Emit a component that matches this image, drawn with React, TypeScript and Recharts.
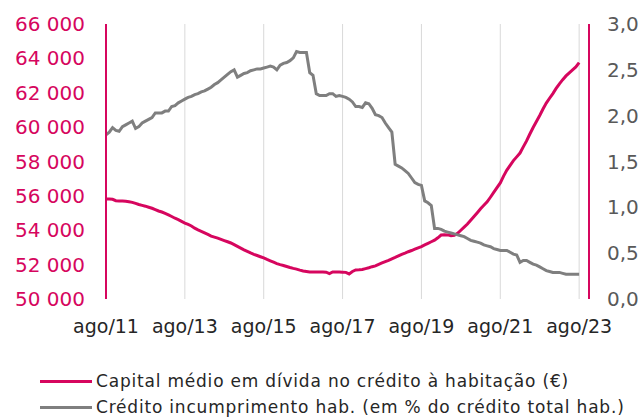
import React from "react";
import { LineChart, Line, XAxis, YAxis, CartesianGrid } from "recharts";

// monthly, ago/11 (index 0) to ago/23 (index 144)
const capitalMedio = [
  55820, 55820, 55800, 55720, 55700, 55700, 55690, 55660, 55620, 55560,
  55500, 55450, 55400, 55340, 55280, 55200, 55120, 55060, 54980, 54890,
  54800, 54700, 54620, 54520, 54420, 54340, 54250, 54120, 54020, 53940,
  53850, 53760, 53660, 53600, 53540, 53470, 53400, 53330, 53260, 53160,
  53060, 52960, 52860, 52770, 52680, 52600, 52530, 52460, 52390, 52300,
  52220, 52140, 52060, 52000, 51950, 51890, 51830, 51780, 51740, 51680,
  51630, 51600, 51570, 51570, 51570, 51570, 51570, 51560, 51480, 51570,
  51570, 51570, 51560, 51550, 51460, 51600, 51690, 51700, 51720, 51770,
  51820, 51880, 51930, 52020, 52100, 52180, 52250, 52340, 52420, 52510,
  52600, 52670, 52750, 52820, 52900, 52980, 53050, 53150, 53240, 53330,
  53420, 53560, 53720, 53740, 53730, 53680, 53700, 53820, 54000, 54180,
  54360, 54580, 54800, 55020, 55250, 55450, 55650, 55920, 56200, 56480,
  56750, 57150, 57500, 57780, 58050, 58270, 58490, 58850, 59200, 59600,
  59980, 60330, 60680, 61050, 61400, 61680, 61950, 62250, 62520, 62760,
  62980, 63160, 63330, 63500, 63750,
];

const incumprimento = [
  1.79, 1.82, 1.87, 1.84, 1.83, 1.88, 1.9, 1.92, 1.94, 1.86,
  1.88, 1.92, 1.94, 1.96, 1.98, 2.03, 2.03, 2.03, 2.05, 2.05,
  2.1, 2.11, 2.14, 2.16, 2.18, 2.2, 2.21, 2.23, 2.24, 2.26,
  2.27, 2.29, 2.31, 2.34, 2.36, 2.39, 2.42, 2.45, 2.48, 2.5,
  2.42, 2.44, 2.46, 2.47, 2.49, 2.5, 2.51, 2.51, 2.52, 2.53,
  2.54, 2.53, 2.5, 2.55, 2.57, 2.58, 2.6, 2.63, 2.7, 2.69,
  2.69, 2.69, 2.47, 2.44, 2.24, 2.22, 2.22, 2.22, 2.24, 2.24,
  2.21, 2.22, 2.21, 2.2, 2.18, 2.15, 2.1, 2.1, 2.09, 2.14,
  2.13, 2.08, 2.01, 2.0, 1.98, 1.92, 1.87, 1.82, 1.47, 1.45,
  1.43, 1.4, 1.37, 1.32, 1.27, 1.25, 1.24, 1.07, 1.05, 1.02,
  0.77, 0.77, 0.76, 0.74, 0.73, 0.72, 0.71, 0.7, 0.69, 0.68,
  0.66, 0.64, 0.63, 0.62, 0.61, 0.59, 0.58, 0.57, 0.55, 0.54,
  0.53, 0.53, 0.53, 0.51, 0.49, 0.48, 0.4, 0.42, 0.42, 0.4,
  0.38, 0.37, 0.35, 0.33, 0.31, 0.3, 0.29, 0.29, 0.29, 0.28,
  0.27, 0.27, 0.27, 0.27, 0.27,
];

const tickLabels = ["ago/11", "ago/13", "ago/15", "ago/17", "ago/19", "ago/21", "ago/23"];
const leftTicks = [50000, 52000, 54000, 56000, 58000, 60000, 62000, 64000, 66000];
const rightTicks = [0, 0.5, 1, 1.5, 2, 2.5, 3];

const seriesNames = [
  "Capital médio em dívida no crédito à habitação (€)",
  "Crédito incumprimento hab. (em % do crédito total hab.)",
];

const PINK = "#d6065e";
const GRAY = "#7f7f7f";
const FONT = "'DejaVu Sans', sans-serif";

const data = capitalMedio.map((v, i) => ({ m: i, capital: v, incump: incumprimento[i] }));
const xTicks = tickLabels.map((_, i) => i * 24);

const fmtThousands = (v: number) => String(v).replace(/\B(?=(\d{3})+(?!\d))/g, " ");

// centred month label under each gridline
const MonthTick = (props: any) => {
  const { x, y, payload } = props;
  return (
    <text x={x} y={y + 32} textAnchor="middle" fill="#262626" fontSize={19} fontFamily={FONT}>
      {tickLabels[Math.round(payload.value / 24)]}
    </text>
  );
};

export default function App() {
  return (
    <div style={{ position: "absolute", left: 0, top: 0, width: 641, height: 419, background: "#fff" }}>
      <LineChart width={641} height={419} data={data} margin={{ top: 24, right: 0, bottom: 0, left: 0 }}>
        <CartesianGrid horizontal={false} stroke="#d9d9d9" strokeWidth={1} />
        <XAxis
          dataKey="m"
          type="number"
          domain={[0, 147]}
          ticks={xTicks}
          axisLine={false}
          tickLine={false}
          tickSize={0}
          height={120}
          interval={0}
          tick={<MonthTick />}
        />
        <YAxis
          yAxisId="l"
          domain={[50000, 66000]}
          ticks={leftTicks}
          tickFormatter={fmtThousands}
          width={106}
          axisLine={{ stroke: PINK, strokeWidth: 2 }}
          tickLine={false}
          tickSize={0}
          tickMargin={21}
          tick={{ fill: PINK, fontSize: 20, fontFamily: FONT }}
        />
        <YAxis
          yAxisId="r"
          orientation="right"
          domain={[0, 3]}
          ticks={rightTicks}
          tickFormatter={(v: number) => v.toFixed(1).replace(".", ",")}
          width={52}
          axisLine={{ stroke: PINK, strokeWidth: 2 }}
          tickLine={false}
          tickSize={0}
          tickMargin={18}
          tick={{ fill: "#595959", fontSize: 20, fontFamily: FONT, textAnchor: "start" }}
        />
        <Line yAxisId="l" type="linear" dataKey="capital" stroke={PINK} strokeWidth={3} dot={false} isAnimationActive={false} />
        <Line yAxisId="r" type="linear" dataKey="incump" stroke={GRAY} strokeWidth={3} dot={false} isAnimationActive={false} />
      </LineChart>
      <div style={{ position: "absolute", left: 40, top: 368, fontFamily: FONT, fontSize: 17, letterSpacing: 0.8, color: "#262626" }}>
        {seriesNames.map((name, i) => (
          <div key={name} style={{ display: "flex", alignItems: "center", height: 26, whiteSpace: "pre" }}>
            <span style={{ display: "inline-block", width: 52, height: 3, background: i === 0 ? PINK : GRAY, marginRight: 4 }} />
            <span>{name}</span>
          </div>
        ))}
      </div>
    </div>
  );
}
